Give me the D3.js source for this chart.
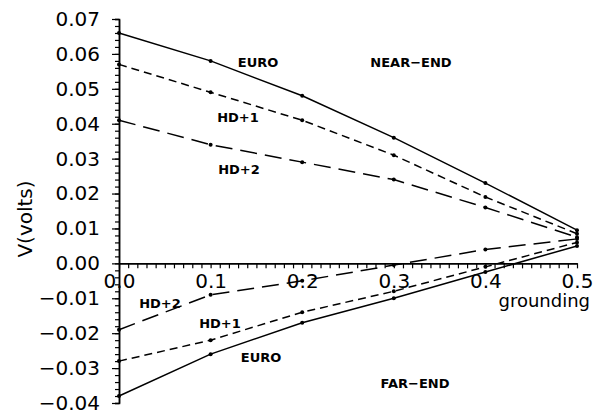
<!DOCTYPE html>
<html>
<head>
<meta charset="utf-8">
<script src="https://cdn.jsdelivr.net/npm/d3@7"></script>
<style>
  body { margin: 0; background: #fff; }
  svg text { font-family: "DejaVu Sans", sans-serif; fill: #000; }
</style>
</head>
<body>
<svg id="chart" width="595" height="413"></svg>
<script>
// grounding positions
const grounding = [0, 0.1, 0.2, 0.3, 0.4, 0.5];

// near-end voltages
const nearEuro = [0.066, 0.058, 0.048, 0.036, 0.023, 0.0095];
const nearHd1  = [0.057, 0.049, 0.041, 0.031, 0.019, 0.0085];
const nearHd2  = [0.041, 0.034, 0.029, 0.024, 0.016, 0.0075];

// far-end voltages
const farEuro = [-0.038, -0.026, -0.017, -0.010, -0.0025, 0.005];
const farHd1  = [-0.028, -0.022, -0.014, -0.008, -0.001, 0.006];
const farHd2  = [-0.019, -0.009, -0.005, -0.0005, 0.004, 0.007];

const xTicks = [0, 0.1, 0.2, 0.3, 0.4, 0.5];
const yTicks = [-0.04, -0.03, -0.02, -0.01, 0, 0.01, 0.02, 0.03, 0.04, 0.05, 0.06, 0.07];

const svg = d3.select("#chart");

const x = d3.scaleLinear().domain([0, 0.5]).range([119, 577]);
const y = d3.scaleLinear().domain([-0.04, 0.07]).range([403, 19]);

// series: values + dash style
const series = [
  {v: nearEuro, dash: null},
  {v: nearHd1, dash: "8,5"},
  {v: nearHd2, dash: "17,8"},
  {v: farEuro, dash: null},
  {v: farHd1, dash: "8,5"},
  {v: farHd2, dash: "17,8"}
];

const line = d3.line().x((d, i) => x(grounding[i])).y(d => y(d));

series.forEach(s => {
  svg.append("path")
    .attr("d", line(s.v))
    .attr("fill", "none")
    .attr("stroke", "#000")
    .attr("stroke-width", 1.5)
    .attr("stroke-dasharray", s.dash);
  svg.selectAll(null)
    .data(s.v)
    .join("circle")
    .attr("cx", (d, i) => x(grounding[i]))
    .attr("cy", d => y(d))
    .attr("r", 2)
    .attr("fill", "#000");
});

// y axis: major ticks every 0.01, minor every 0.002, pointing left
const yAxis = svg.append("g").attr("transform", `translate(${x(0)},0)`);
yAxis.append("g")
  .call(d3.axisLeft(y).tickValues(d3.range(-40, 71, 2).map(d => d / 1000)).tickSize(4).tickFormat(""))
  .selectAll("text").remove();
const yMajor = yAxis.append("g")
  .call(d3.axisLeft(y).tickValues(yTicks).tickSize(7).tickSizeOuter(0));
yAxis.selectAll(".domain").attr("stroke-width", 1.5);
yAxis.selectAll("line").attr("stroke-width", 1.2);
yMajor.selectAll("text")
  .attr("x", -19)
  .attr("font-size", 20)
  .text(d => d3.format(".2f")(d).replace("-", "\u2212"));

// x axis along y = 0, ticks hanging down
const xAxis = svg.append("g").attr("transform", `translate(0,${y(0)})`);
xAxis.append("g")
  .call(d3.axisBottom(x).tickValues(d3.range(0, 51).map(d => d / 100)).tickSize(5).tickFormat("").tickSizeOuter(0))
  .selectAll("text").remove();
const xMajor = xAxis.append("g")
  .call(d3.axisBottom(x).tickValues(xTicks).tickSize(0).tickSizeOuter(0).tickFormat(d3.format(".1f")));
xAxis.selectAll(".domain").attr("stroke-width", 1.5);
xAxis.selectAll("line").attr("stroke-width", 1.2);
xMajor.selectAll("text").attr("font-size", 20).attr("y", 10);

// axis titles
svg.append("text")
  .attr("x", 590).attr("y", 307)
  .attr("text-anchor", "end")
  .attr("font-size", 18)
  .text("grounding");

svg.append("text")
  .attr("transform", "translate(32,219) rotate(-90)")
  .attr("text-anchor", "middle")
  .attr("font-size", 20)
  .text("V(volts)");

// in-plot labels
const labels = [
  {t: "EURO", x: 258, y: 62},
  {t: "NEAR\u2212END", x: 411, y: 62},
  {t: "HD+1", x: 238, y: 117},
  {t: "HD+2", x: 239, y: 169},
  {t: "HD+2", x: 160, y: 303},
  {t: "HD+1", x: 220, y: 323},
  {t: "EURO", x: 261, y: 357},
  {t: "FAR\u2212END", x: 415, y: 383}
];
svg.selectAll(null)
  .data(labels)
  .join("text")
  .attr("x", d => d.x)
  .attr("y", d => d.y)
  .attr("dy", "0.36em")
  .attr("text-anchor", "middle")
  .attr("font-size", 13)
  .attr("font-weight", "bold")
  .text(d => d.t);
</script>
</body>
</html>
